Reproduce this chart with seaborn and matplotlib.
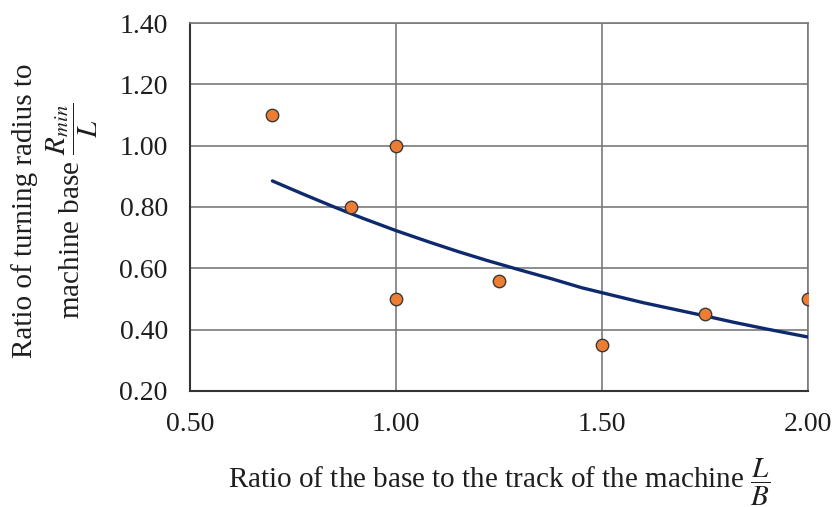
import numpy as np
import pandas as pd
import matplotlib
matplotlib.use("Agg")
import matplotlib.pyplot as plt
import seaborn as sns

# measured points: L/B vs Rmin/L
base_track = [0.70, 0.89, 1.00, 1.00, 1.25, 1.50, 1.75, 2.00]
radius_ratio = [1.10, 0.80, 1.00, 0.50, 0.56, 0.35, 0.45, 0.50]

# trend curve
trend_x = [0.70, 0.78, 0.85, 0.92, 1.00, 1.08, 1.15, 1.22, 1.30, 1.38,
           1.45, 1.52, 1.60, 1.68, 1.75, 1.82, 1.90, 2.00]
trend_y = [0.885, 0.839, 0.800, 0.763, 0.723, 0.686, 0.655, 0.626, 0.595,
           0.565, 0.537, 0.514, 0.488, 0.465, 0.445, 0.424, 0.402, 0.376]

x_ticks = [0.50, 1.00, 1.50, 2.00]
y_ticks = [0.20, 0.40, 0.60, 0.80, 1.00, 1.20, 1.40]

sns.set_style("white")
plt.rcParams["font.family"] = ["Liberation Serif", "DejaVu Serif"]
plt.rcParams["mathtext.fontset"] = "stix"

points = pd.DataFrame({"x": base_track, "y": radius_ratio})
trend = pd.DataFrame({"x": trend_x, "y": trend_y})

fig = plt.figure(figsize=(8.38, 5.07), dpi=100)
ax = fig.add_axes([190 / 838, 1 - 391 / 507, 618 / 838, 368 / 507])

sns.lineplot(data=trend, x="x", y="y", ax=ax, color="#0e2a6e", lw=2.4,
             zorder=3, estimator=None, sort=False)
sns.scatterplot(data=points, x="x", y="y", ax=ax, color="#ee7d31",
                edgecolor="#3a3a3a", linewidth=1.0, s=80, zorder=4)

ax.set_xlim(0.5, 2.0)
ax.set_ylim(0.2, 1.4)
ax.set_xticks(x_ticks)
ax.set_yticks(y_ticks)
ax.set_xticklabels([f"{v:.2f}" for v in x_ticks])
ax.set_yticklabels([f"{v:.2f}" for v in y_ticks])
ax.tick_params(axis="both", length=0, labelsize=20, colors="#1e1e1e")
ax.tick_params(axis="x", pad=15)
ax.tick_params(axis="y", pad=16)

ax.grid(True, color="#7a7a7a", lw=1.2)
ax.set_axisbelow(True)
for side, sp in ax.spines.items():
    sp.set_visible(True)
    sp.set_color("#7a7a7a")
    sp.set_linewidth(1.2)
for side in ("left", "bottom"):
    ax.spines[side].set_color("#333333")
    ax.spines[side].set_linewidth(1.5)

ax.set_xlabel(r"Ratio of the base to the track of the machine $\dfrac{L}{B}$",
              fontsize=21, color="#1e1e1e")
ax.xaxis.set_label_coords(0.5, -0.178)
ax.set_ylabel("Ratio of turning radius to\n" r"machine base $\dfrac{R_{min}}{L}$",
              fontsize=21, color="#1e1e1e", linespacing=1.2)
ax.yaxis.set_label_coords(-0.145, 0.49)

fig.savefig("out.png", dpi=100)
